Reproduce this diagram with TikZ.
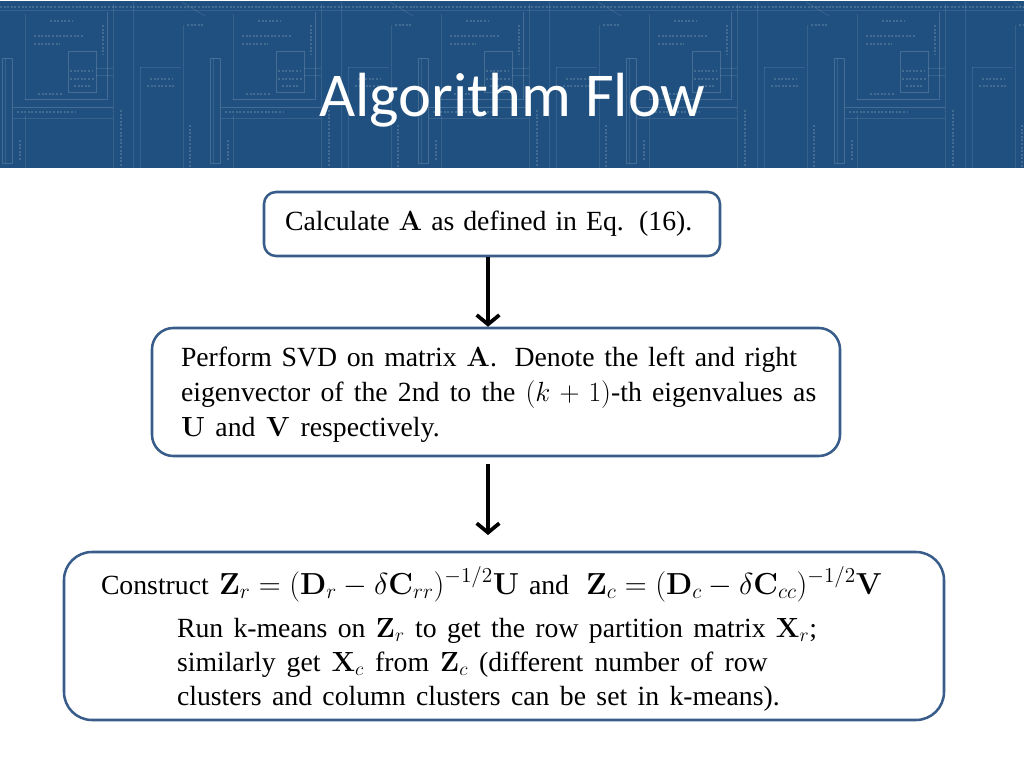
\RequirePackage{fix-cm}
\documentclass[tikz,border=0pt]{standalone}
\usepackage[no-math]{fontspec}
\setmainfont{Liberation Serif}
\newfontfamily\titlefont{Carlito}
\usetikzlibrary{arrows.meta}
\definecolor{banner}{HTML}{20507F}
\definecolor{boxline}{HTML}{385D8A}
\newcommand{\lw}[2]{\makebox[#1pt][s]{#2}}
\tikzset{
  flowbox/.style={draw=boxline,line width=1.9pt,fill=white,inner sep=0pt,rectangle},
  textline/.style={anchor=base west,inner sep=0pt,outer sep=0pt,font=\fontsize{20.8}{26}\selectfont},
  bigline/.style={anchor=base west,inner sep=0pt,outer sep=0pt,font=\fontsize{22.8}{26}\selectfont},
  flowarrow/.style={line width=2.8pt,black,-{Straight Barb[length=7pt,width=17pt,line width=2.8pt]}},
  print/.style={white,opacity=.10,line width=.6pt},
  printb/.style={white,opacity=.17,line width=.7pt},
  printc/.style={white,opacity=.16,line width=1pt,dash pattern=on 1.5pt off 1.2pt},
}
\begin{document}
\begin{tikzpicture}[x=.75pt,y=-.75pt]
\useasboundingbox (0,0) rectangle (1024,768);
\fill[white] (0,0) rectangle (1024,768);
\fill[banner] (0,1) rectangle (1024,168);
\begin{scope}
\clip (0,1) rectangle (1024,168);
\foreach \o in {0,208,416,624,832}{
\begin{scope}[xshift=\o*.75pt]
  \draw[printc] (0,7) -- (208,7);
  \draw[print] (0,10) -- (208,10);
  \draw[printb] (2,58) rectangle (12,163);
  \draw[print] (5,58) -- (5,163);
  \draw[print] (25,14) -- (25,100);
  \draw[print] (25,115) -- (25,168);
  \draw[printb] (68,51) rectangle (96,92);
  \draw[print] (96,68) -- (113,68) (96,75) -- (113,75);
  \draw[printb] (25,99) -- (107,99) -- (107,12);
  \draw[printb] (13,107) -- (113,107);
  \draw[print] (13,118) -- (113,118);
  \draw[print] (113,4) -- (113,168);
  \draw[print] (133,2) -- (133,168);
  \draw[print] (140,67) -- (140,168);
  \draw[print] (140,67) -- (181,67);
  \draw[print] (183,25) -- (183,168);
  \draw[print] (182,2) -- (205,16);
  \draw[printc] (50,21) -- (72,21);
  \draw[printc] (34,36) -- (84,36) (34,44) -- (60,44);
  \draw[printc] (70,71) -- (92,71) (70,79) -- (94,79) (74,86) -- (90,86);
  \draw[printc] (38,94) -- (62,94);
  \draw[printc] (150,79) -- (172,79) (147,86) -- (174,86);
  \draw[printc] (187,25) -- (205,25);
  \draw[printc] (17,112) -- (76,112);
  \draw[printc] (121,110) -- (121,168);
  \draw[printc] (103,25) -- (103,55);
  \draw[printc] (20,140) -- (20,160);
  \draw[printc] (190,125) -- (190,168);
\end{scope}}
\end{scope}
\node[anchor=base west,inner sep=0pt,text=white,font=\titlefont\fontsize{46.8}{56}\selectfont] (title) at (319,116.5) {Algorithm Flow};

\node[flowbox,minimum width=342pt,minimum height=48pt,rounded corners=9pt] (box1) at (492,224) {};
\node[flowbox,minimum width=516pt,minimum height=96pt,rounded corners=16pt] (box2) at (496,392) {};
\node[flowbox,minimum width=660pt,minimum height=126pt,rounded corners=21pt] (box3) at (504,636) {};

\node[textline] (t1) at (285,230) {\lw{305.5}{Calculate $\mathbf{A}$ as defined in Eq. (16).}};

\node[textline] (t2a) at (181,366) {\lw{462}{Perform SVD on matrix $\mathbf{A}$. Denote the left and right}};
\node[textline] (t2b) at (181,401) {\lw{476.5}{eigenvector of the 2nd to the $(k+1)$-th eigenvalues as}};
\node[textline] (t2c) at (181,436) {\lw{194}{$\mathbf{U}$ and $\mathbf{V}$ respectively.}};

\node[textline] (t3con) at (101,594) {Construct};
\node[bigline] (t3a) at (219,594) {$\mathbf{Z}_r=(\mathbf{D}_r-\delta\mathbf{C}_{rr})^{-1/2}\mathbf{U}$};
\node[textline] (t3and) at (529,594) {and};
\node[bigline] (t3b) at (586,594) {$\mathbf{Z}_c=(\mathbf{D}_c-\delta\mathbf{C}_{cc})^{-1/2}\mathbf{V}$};
\node[textline] (t3c) at (177,637) {\lw{480}{Run k-means on $\mathbf{Z}_r$ to get the row partition matrix $\mathbf{X}_r$;}};
\node[textline] (t3d) at (177,671) {\lw{443}{similarly get $\mathbf{X}_c$ from $\mathbf{Z}_c$ (different number of row}};
\node[textline] (t3e) at (177,705) {\lw{452}{clusters and column clusters can be set in k-means).}};

\coordinate (axis) at (488,0);
\coordinate (gapstart) at (488,464);
\coordinate (gapend) at (488,535);
\draw[flowarrow] (axis |- box1.south) -- (axis |- box2.north);
\draw[flowarrow] (gapstart) -- (gapend);
\end{tikzpicture}
\end{document}
